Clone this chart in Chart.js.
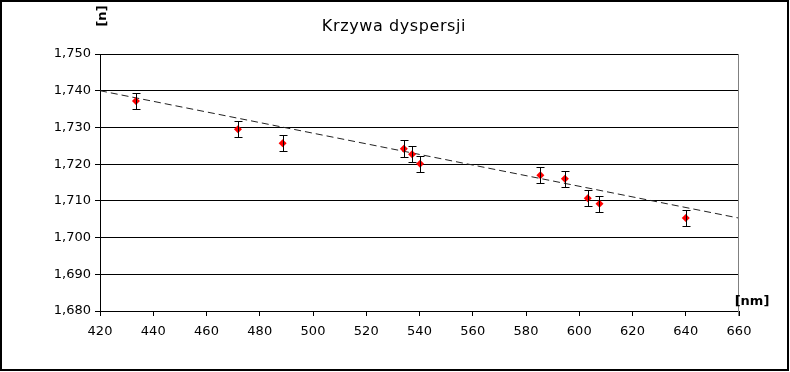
<!DOCTYPE html>
<html>
<head>
<meta charset="utf-8">
<script src="https://cdn.jsdelivr.net/npm/chart.js@4.4.1/dist/chart.umd.min.js"></script>
<style>
  html, body { margin: 0; padding: 0; background: #fff; }
</style>
</head>
<body>
<canvas id="dispChart" width="790" height="372"></canvas>
<script>
// measured points (wavelength in nm, refractive index n, error of n)
const wavelengths = [433.5, 471.8, 488.6, 534.1, 537.2, 540.2, 585.4, 594.6, 603.2, 607.6, 640.0];
const refrIndex   = [1.7372, 1.7295, 1.7257, 1.7242, 1.7227, 1.7201, 1.7170, 1.7160, 1.7107, 1.7092, 1.7053];
const nErrors     = [0.0022, 0.0022, 0.0022, 0.0023, 0.0022, 0.0022, 0.0022, 0.0022, 0.0022, 0.0022, 0.0022];

// linear trend line (dashed)
const trendX = [420, 660];
const trendY = [1.7400, 1.7053];

// axis ticks
const xTicks = [420, 440, 460, 480, 500, 520, 540, 560, 580, 600, 620, 640, 660];
const yTicks = [1.680, 1.690, 1.700, 1.710, 1.720, 1.730, 1.740, 1.750];

const chartTitle = 'Krzywa dyspersji';
const yTitle = '[n]';
const xTitle = '[nm]';

const tickFont = { family: 'DejaVu Sans', size: 13 };

// ------------------------- error bars + texts + frame -------------------------
const decorPlugin = {
  id: 'decor',
  beforeDraw(chart) {
    const c = chart.ctx;
    c.save();
    c.fillStyle = '#fff';
    c.fillRect(0, 0, chart.width, chart.height);
    c.restore();
  },
  afterDatasetsDraw(chart) {
    const c = chart.ctx;
    const xs = chart.scales.x, ys = chart.scales.y;
    c.save();
    c.strokeStyle = '#000';
    c.lineWidth = 1;
    wavelengths.forEach((w, i) => {
      const px = Math.round(xs.getPixelForValue(w)) + 0.5;
      const top = Math.round(ys.getPixelForValue(refrIndex[i] + nErrors[i])) + 0.5;
      const bot = Math.round(ys.getPixelForValue(refrIndex[i] - nErrors[i])) + 0.5;
      c.beginPath();
      c.moveTo(px, top); c.lineTo(px, bot);
      c.moveTo(px - 4, top); c.lineTo(px + 4, top);
      c.moveTo(px - 4, bot); c.lineTo(px + 4, bot);
      c.stroke();
    });
    c.restore();
  },
  afterDraw(chart) {
    const c = chart.ctx;
    const area = chart.chartArea;
    c.save();
    // gray right edge of the plot
    c.strokeStyle = '#808080';
    c.lineWidth = 1;
    c.beginPath();
    c.moveTo(Math.round(area.right) - 0.5, area.top);
    c.lineTo(Math.round(area.right) - 0.5, area.bottom + 5);
    c.stroke();

    // title
    c.fillStyle = '#000';
    c.font = '16px "DejaVu Sans"';
    c.letterSpacing = '0.6px';
    c.textAlign = 'center';
    c.textBaseline = 'alphabetic';
    c.fillText(chartTitle, 394, 31);
    c.letterSpacing = '0px';

    // axis titles
    c.font = 'bold 13px "DejaVu Sans"';
    c.textBaseline = 'middle';
    c.fillText(xTitle, 752, 302);
    c.translate(103, 16);
    c.rotate(-Math.PI / 2);
    c.fillText(yTitle, 0, 0);
    c.restore();

    // outer frame
    c.save();
    c.strokeStyle = '#000';
    c.lineWidth = 2;
    c.strokeRect(1, 1, 787, 369);
    c.restore();
  }
};

const ctx = document.getElementById('dispChart').getContext('2d');

const dispChart = new Chart(ctx, {
  type: 'scatter',
  data: {
    datasets: [
      {
        label: 'n',
        data: wavelengths.map((w, i) => ({ x: w, y: refrIndex[i] })),
        pointStyle: 'rectRot',
        pointRadius: 4,
        pointHoverRadius: 4,
        pointBorderWidth: 0,
        backgroundColor: '#ff0000',
        borderColor: '#ff0000',
        order: 1
      },
      {
        label: 'trend',
        data: trendX.map((w, i) => ({ x: w, y: trendY[i] })),
        showLine: true,
        borderColor: '#222',
        borderWidth: 1,
        borderDash: [7, 4],
        pointRadius: 0,
        order: 2
      }
    ]
  },
  options: {
    responsive: false,
    animation: false,
    devicePixelRatio: 1,
    layout: { padding: { top: 54, left: 0, right: 51, bottom: 21 } },
    plugins: {
      legend: { display: false },
      title: { display: false },
      tooltip: { enabled: false }
    },
    scales: {
      x: {
        type: 'linear',
        position: 'bottom',
        min: 420,
        max: 660,
        afterBuildTicks: s => { s.ticks = xTicks.map(v => ({ value: v })); },
        afterFit: s => { s.height = 40; },
        grid: { drawOnChartArea: false, drawTicks: true, tickLength: 5, color: '#000' },
        border: { color: '#000', width: 1 },
        ticks: { font: tickFont, color: '#000', padding: 8, maxRotation: 0, autoSkip: false }
      },
      y: {
        type: 'linear',
        min: 1.68,
        max: 1.75,
        afterBuildTicks: s => { s.ticks = yTicks.map(v => ({ value: v })); },
        afterFit: s => { s.width = 100; },
        grid: { color: '#000', tickLength: 5 },
        border: { color: '#000', width: 1 },
        ticks: {
          font: tickFont,
          color: '#000',
          padding: 4,
          autoSkip: false,
          callback: v => v.toFixed(3).replace('.', ',')
        }
      }
    }
  },
  plugins: [decorPlugin]
});
</script>
</body>
</html>
